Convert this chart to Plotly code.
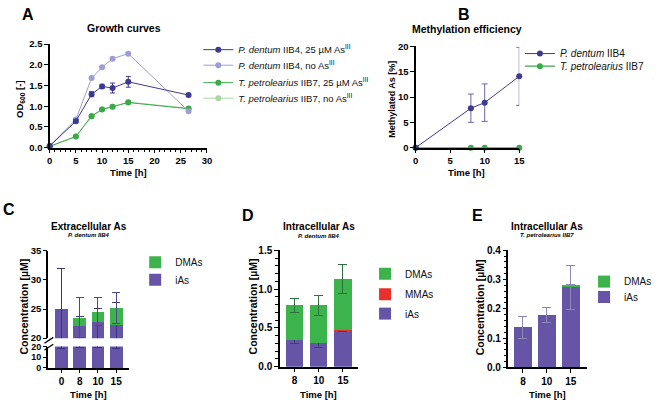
import plotly.graph_objects as go

# ---------------- data ----------------
time_a = [0, 5, 8, 10, 12, 15, 26.5]
pd_25 = [0.04, 0.64, 1.29, 1.48, 1.44, 1.59, 1.27]
pd_25_err = [0.01, 0.04, 0.06, 0.05, 0.12, 0.13, 0.04]
pd_no = [0.04, 0.68, 1.68, 1.94, 2.15, 2.27, 0.88]
pd_no_err = [0.01, 0.02, 0.02, 0.02, 0.02, 0.03, 0.03]
tp_25 = [0.03, 0.27, 0.76, 0.92, 0.99, 1.09, 0.94]
tp_25_err = [0.01, 0.02, 0.02, 0.02, 0.02, 0.03, 0.02]
tp_no = [0.03, 0.27, 0.77, 0.93, 0.99, 1.10, 0.95]

time_b = [0, 8, 10, 15]
meth_pd = [0, 7.8, 8.9, 14.1]
meth_pd_err = [0, 2.8, 3.7, 5.75]
meth_tp = [0, 0, 0, 0]

cats_c = ["0", "8", "10", "15"]
c_ias = [25.0, 22.1, 22.8, 22.3]
c_ias_err_up = [7.0, 1.7, 2.35, 3.75]
c_ias_err_dn = [7.0, 3.0, 3.6, 3.8]
c_dmas = [None, 1.4, 1.75, 2.85]
c_dmas_err = [None, 3.4, 2.4, 2.65]

cats_d = ["8", "10", "15"]
d_ias = [0.346, 0.31, 0.46]
d_ias_err = [0.045, 0.06, 0.01]
d_mmas = [0, 0, 0.012]
d_dmas = [0.443, 0.483, 0.66]
d_dmas_err = [0.095, 0.13, 0.185]

cats_e = ["8", "10", "15"]
e_ias = [0.136, 0.179, 0.273]
e_ias_err = [0.038, 0.026, 0.075]
e_dmas = [None, None, 0.008]
e_dmas_err = [None, None, 0.003]

# ---------------- style ----------------
W, H = 666, 405
F = "Liberation Sans"
DPURPLE = "#3f3a8e"
LPURPLE = "#a09cd6"
GREEN = "#3aaa48"
LGREEN = "#a8d8a0"
IAS = "#6655a6"
DMAS = "#3cb44b"
MMAS = "#e8312a"


def px(x):
    return x / W


def py(y):
    return 1 - y / H


def axstyle(fs=9.5, **kw):
    d = dict(showline=True, linecolor="black", linewidth=1.5, ticks="outside",
             tickcolor="black", tickwidth=1.3, ticklen=3.5, showgrid=False,
             zeroline=False, fixedrange=True,
             tickfont=dict(family=F, size=fs, color="black", weight="bold"))
    d.update(kw)
    return d


fig = go.Figure()

# ---------------- panel A ----------------
for name, ys, err, col, lg in [
    ("<i>T. petrolearius</i> IIB7, no As<sup>III</sup>", tp_no, None, LGREEN, "legend4"),
    ("<i>T. petrolearius</i> IIB7, 25 µM As<sup>III</sup>", tp_25, tp_25_err, GREEN, "legend3"),
    ("<i>P. dentum</i> IIB4, no As<sup>III</sup>", pd_no, pd_no_err, LPURPLE, "legend2"),
    ("<i>P. dentum</i> IIB4, 25 µM As<sup>III</sup>", pd_25, pd_25_err, DPURPLE, "legend"),
]:
    fig.add_trace(go.Scatter(
        x=time_a, y=ys, mode="lines+markers", name=name, legend=lg,
        line=dict(color=col, width=1), marker=dict(color=col, size=6),
        error_y=dict(type="data", array=err, color=col, thickness=1, width=2.5, visible=err is not None),
        cliponaxis=False, xaxis="x", yaxis="y"))

# ---------------- panel B ----------------
fig.add_trace(go.Scatter(
    x=time_b, y=meth_tp, mode="lines+markers", name="<i>T. petrolearius</i> IIB7",
    legend="legend6", line=dict(color=GREEN, width=1.2), marker=dict(color=GREEN, size=6),
    cliponaxis=False, xaxis="x2", yaxis="y2"))
fig.add_trace(go.Scatter(
    x=time_b, y=meth_pd, mode="lines+markers", name="<i>P. dentum</i> IIB4",
    legend="legend5", line=dict(color=DPURPLE, width=1), marker=dict(color=DPURPLE, size=6),
    error_y=dict(type="data", array=meth_pd_err, color="#6b67a8", thickness=1, width=3),
    cliponaxis=False, xaxis="x2", yaxis="y2"))

# ---------------- panel C ----------------
ERR_IAS_C = "#3b3580"
ERR_DMAS_C = "#2e7040"
# lower segment
fig.add_trace(go.Bar(
    x=cats_c, y=c_ias, marker=dict(color=IAS, line=dict(width=0)), width=0.7,
    error_y=dict(type="data", array=c_ias_err_up, arrayminus=c_ias_err_dn,
                 color=ERR_IAS_C, thickness=1, width=4),
    showlegend=False, xaxis="x3", yaxis="y3"))
# upper segment
fig.add_trace(go.Bar(
    x=cats_c, y=c_ias, name="iAs", legend="legend8",
    marker=dict(color=IAS, line=dict(width=0)), width=0.7,
    error_y=dict(type="data", array=c_ias_err_up, arrayminus=c_ias_err_dn,
                 color=ERR_IAS_C, thickness=1, width=4),
    xaxis="x4", yaxis="y4"))
fig.add_trace(go.Bar(
    x=cats_c, y=c_dmas, name="DMAs", legend="legend7",
    marker=dict(color=DMAS, line=dict(width=0)), width=0.7,
    error_y=dict(type="data", array=c_dmas_err, color="#4a4a8a", thickness=1, width=4),
    xaxis="x4", yaxis="y4"))

# ---------------- panel D ----------------
fig.add_trace(go.Bar(
    x=cats_d, y=d_ias, name="iAs", legend="legend11",
    marker=dict(color=IAS, line=dict(width=0)), width=0.72,
    error_y=dict(type="data", array=d_ias_err, color="#2f4a6a", thickness=1, width=4.5),
    xaxis="x5", yaxis="y5"))
fig.add_trace(go.Bar(
    x=cats_d, y=d_mmas, name="MMAs", legend="legend10",
    marker=dict(color=MMAS, line=dict(width=0)), width=0.72,
    xaxis="x5", yaxis="y5"))
fig.add_trace(go.Bar(
    x=cats_d, y=d_dmas, name="DMAs", legend="legend9",
    marker=dict(color=DMAS, line=dict(width=0)), width=0.72,
    error_y=dict(type="data", array=d_dmas_err, color=ERR_DMAS_C, thickness=1, width=4.5),
    xaxis="x5", yaxis="y5"))

# ---------------- panel E ----------------
fig.add_trace(go.Bar(
    x=cats_e, y=e_ias, name="iAs", legend="legend13",
    marker=dict(color=IAS, line=dict(width=0)), width=0.74,
    error_y=dict(type="data", array=e_ias_err, color="#8c88b8", thickness=1, width=4.5),
    xaxis="x6", yaxis="y6"))
fig.add_trace(go.Bar(
    x=cats_e, y=e_dmas, name="DMAs", legend="legend12",
    marker=dict(color=DMAS, line=dict(width=0)), width=0.74,
    error_y=dict(type="data", array=e_dmas_err, color="#8c88b8", thickness=1, width=4.5),
    xaxis="x6", yaxis="y6"))

# ---------------- layout ----------------
layout = dict(
    width=W, height=H, margin=dict(l=0, r=0, t=0, b=0),
    paper_bgcolor="white", plot_bgcolor="rgba(0,0,0,0)",
    barmode="stack", bargap=0.3, font=dict(family=F, size=9, color="black"),
    xaxis=axstyle(domain=[px(47.3), px(206.7)], range=[0, 30], tickvals=[0, 5, 10, 15, 20, 25, 30],
                  minor=dict(dtick=1, ticks="outside", ticklen=2.5, tickcolor="black", tickwidth=1),
                  anchor="y"),
    yaxis=axstyle(domain=[py(146), py(39.3)], range=[0, 2.5], dtick=0.5, tickformat=".1f", anchor="x"),
    xaxis2=axstyle(domain=[px(418.3), px(523.3)], range=[0, 15], tickvals=[0, 5, 10, 15], anchor="y2"),
    yaxis2=axstyle(domain=[py(146), py(41.7)], range=[0, 20], tickvals=[0, 5, 10, 15, 20], anchor="x2"),
    xaxis3=axstyle(fs=10, domain=[px(46), px(128)], type="category", range=[-0.72, 3.72], anchor="y3"),
    yaxis3=axstyle(fs=9, domain=[py(373), py(351)], range=[0, 20], tickvals=[0, 10, 20], anchor="x3"),
    xaxis4=dict(domain=[px(46), px(128)], type="category", range=[-0.72, 3.72], anchor="y4",
                visible=False, fixedrange=True, matches="x3"),
    yaxis4=axstyle(fs=9.5, domain=[py(342.3), py(252.3)], range=[20, 35], tickvals=[20, 25, 30, 35], anchor="x4"),
    xaxis5=axstyle(fs=10, domain=[px(280.3), px(360.3)], type="category", range=[-0.62, 2.64], anchor="y5"),
    yaxis5=axstyle(fs=10, domain=[py(371.7), py(251.7)], range=[0, 1.5], dtick=0.5, tickformat=".1f", anchor="x5",
                   minor=dict(dtick=0.1, ticks="outside", ticklen=2.5, tickcolor="black", tickwidth=1)),
    xaxis6=axstyle(fs=10, domain=[px(512), px(592)], type="category", range=[-0.62, 2.68], anchor="y6"),
    yaxis6=axstyle(fs=10, domain=[py(372.3), py(251.7)], range=[0, 0.4], dtick=0.1, tickformat=".1f", anchor="x6",
                   minor=dict(dtick=0.02, ticks="outside", ticklen=2.5, tickcolor="black", tickwidth=1)),
)

# legends: one entry each, placed individually
leg_pos = {
    "legend": (198, 45, 9.5), "legend2": (198, 61, 9.5), "legend3": (198, 79, 9.5), "legend4": (198, 95, 9.5),
    "legend5": (524, 49, 10), "legend6": (524, 62, 10),
    "legend7": (134, 264, 10), "legend8": (134, 282, 10),
    "legend9": (367, 276, 10), "legend10": (367, 297, 10), "legend11": (367, 317, 10),
    "legend12": (589, 284, 10), "legend13": (589, 300, 10),
}
for k, (lx, ly, fs) in leg_pos.items():
    layout[k] = dict(x=px(lx), y=py(ly), xanchor="left", yanchor="middle",
                     bgcolor="rgba(0,0,0,0)", borderwidth=0, itemwidth=30,
                     font=dict(family=F, size=fs, color="#111"))
fig.update_layout(**layout)

ann = []


def text(x, y, s, size=9, bold=True, italic=False, angle=0, xanchor="center"):
    ann.append(dict(x=px(x), y=py(y), xref="paper", yref="paper", text=s, showarrow=False,
                    textangle=angle, xanchor=xanchor, yanchor="middle",
                    font=dict(family=F, size=size, color="black",
                              weight="bold" if bold else "normal",
                              style="italic" if italic else "normal")))


# panel letters
for lx, ly, s in [(25, 9, "A"), (467, 9, "B"), (6, 210, "C"), (248, 216, "D"), (481, 216, "E")]:
    text(lx, ly, s, size=16)
# titles
text(123, 23, "Growth curves", size=10.5)
text(470, 24, "Methylation efficiency", size=10.5)
text(87, 227, "Extracellular As", size=10)
text(87, 236, "P. dentum IIB4", size=6, italic=True)
text(320, 227, "Intracellular As", size=10)
text(320, 237, "P. dentum IIB4", size=6, italic=True)
text(551, 227, "Intracellular As", size=10)
text(551, 236, "T. petrolearius IIB7", size=6, italic=True)
# axis titles
text(127, 172, "Time [h]", size=9.5)
text(17, 96, "OD<sub>600</sub> [-]", size=9.5, angle=-90)
text(470, 172, "Time [h]", size=9.5)
text(394, 96, "Methylated As [%]", size=9, angle=-90)
text(87, 400, "Time [h]", size=9.5)
text(21, 310, "Concentration [µM]", size=10.5, angle=-90)
text(320, 400, "Time [h]", size=9.5)
text(253, 310, "Concentration [µM]", size=10.5, angle=-90)
text(552, 400, "Time [h]", size=9.5)
text(483, 310, "Concentration [µM]", size=10.5, angle=-90)
fig.update_layout(annotations=ann)

# axis-break marks on panel C
shapes = []
for yb in (344.5, 351.5):
    shapes.append(dict(type="line", xref="paper", yref="paper",
                       x0=px(42), y0=py(yb + 3), x1=px(51), y1=py(yb - 3),
                       line=dict(color="black", width=1.3)))
fig.update_layout(shapes=shapes)

fig.write_html("out.html")
